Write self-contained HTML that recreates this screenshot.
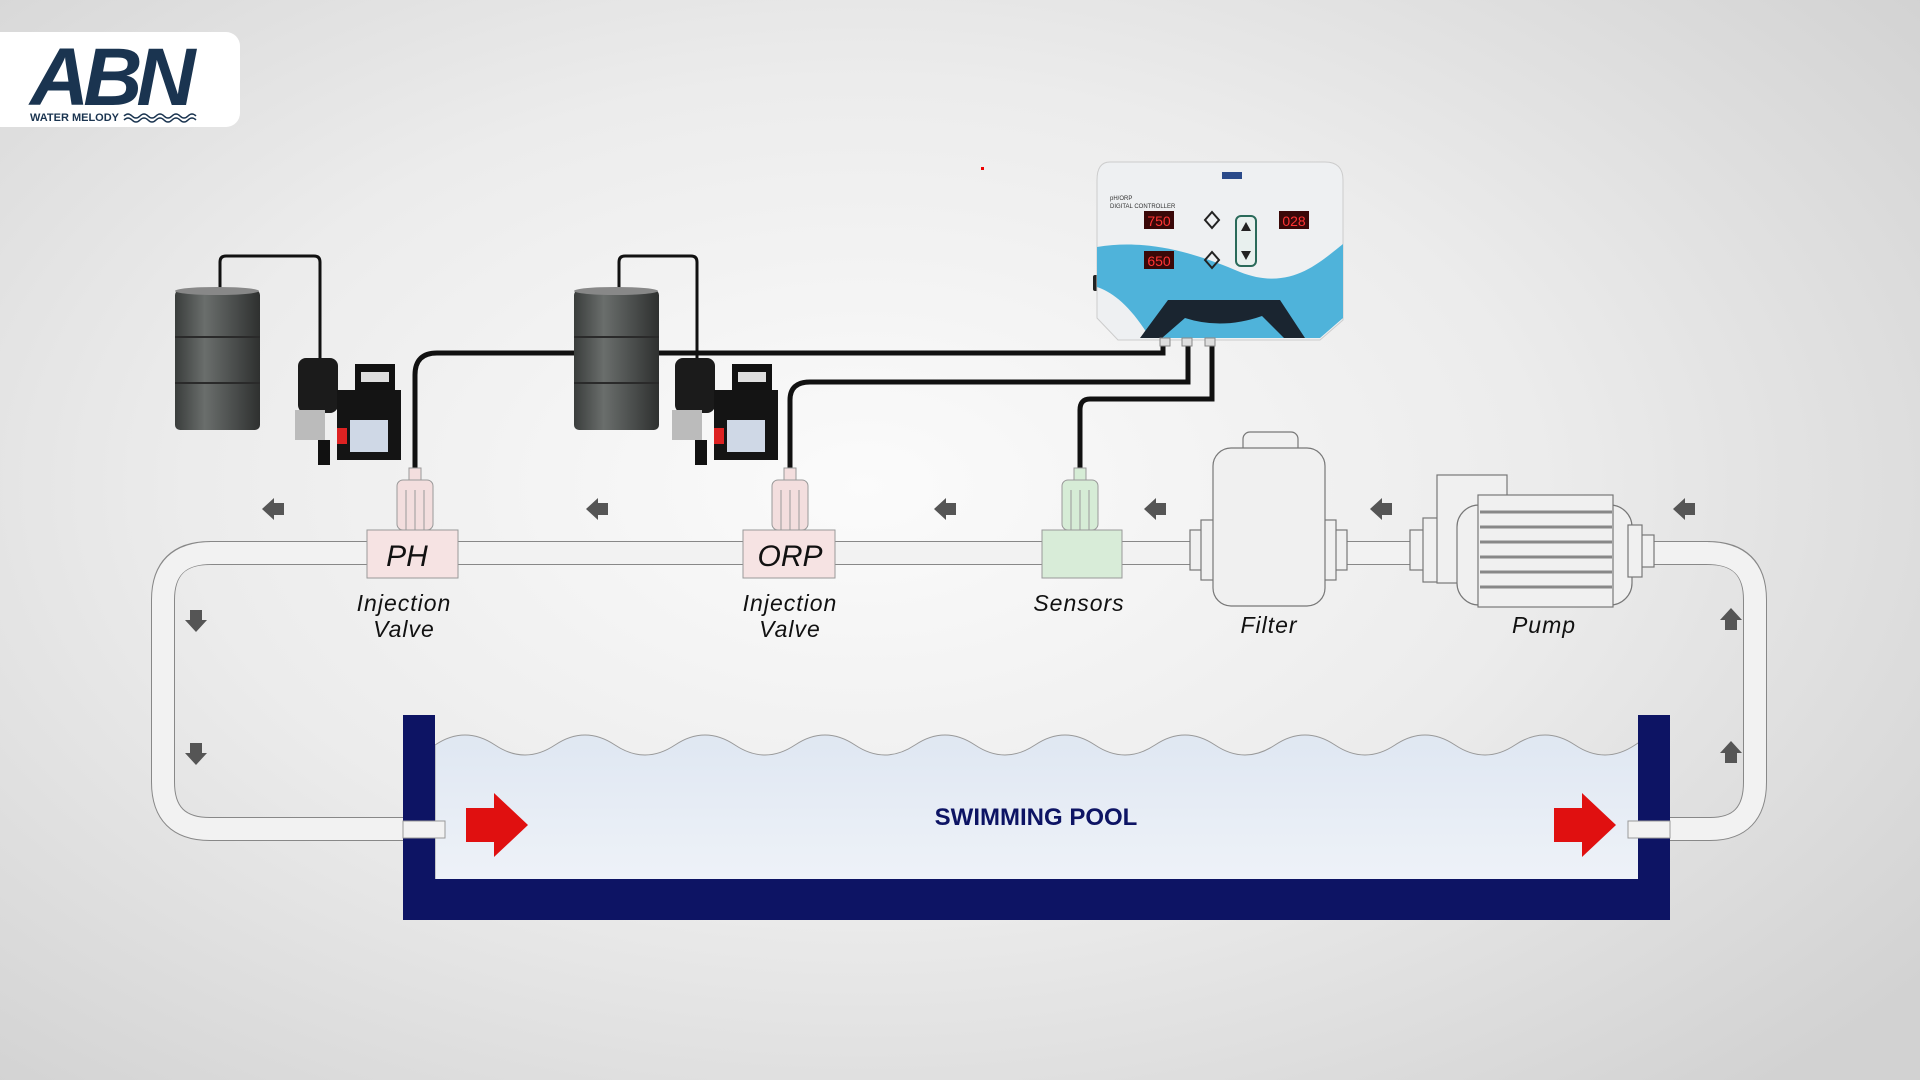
<!DOCTYPE html>
<html><head><meta charset="utf-8"><style>
html,body{margin:0;padding:0;width:1920px;height:1080px;overflow:hidden}
body{background:radial-gradient(ellipse 70% 75% at 45% 45%,#fbfbfb 0%,#ececec 50%,#d2d2d2 100%)}
svg{position:absolute;left:0;top:0}
</style></head><body>
<svg width="1920" height="1080" viewBox="0 0 1920 1080" xmlns="http://www.w3.org/2000/svg" font-family="Liberation Sans, sans-serif">
<defs>
<linearGradient id="drum" x1="0" x2="1"><stop offset="0" stop-color="#3a3d3c"/><stop offset=".35" stop-color="#6a6e6c"/><stop offset=".7" stop-color="#4a4d4c"/><stop offset="1" stop-color="#2e302f"/></linearGradient>
<linearGradient id="water" x1="0" y1="0" x2="0" y2="1"><stop offset="0" stop-color="#dfe7f2"/><stop offset="1" stop-color="#eef2f8"/></linearGradient>
<g id="arrL"><polygon points="0,0 12,-11 12,-6 22,-6 22,6 12,6 12,11" fill="#555"/></g>
</defs>
<!-- logo -->
<rect x="-20" y="32" width="260" height="95" rx="14" fill="#fff"/>
<text x="30" y="105" font-size="82" font-weight="bold" fill="#1a3450" letter-spacing="-6" font-style="italic">ABN</text>
<text x="30" y="121" font-size="11" font-weight="bold" fill="#1a3450">WATER MELODY</text>
<path d="M124 116 q4 -4 8 0 t8 0 t8 0 t8 0 t8 0 t8 0 t8 0 t8 0 t8 0 M124 120 q4 -4 8 0 t8 0 t8 0 t8 0 t8 0 t8 0 t8 0 t8 0 t8 0" stroke="#1a3450" stroke-width="1.5" fill="none"/>
<rect x="981" y="167" width="3" height="3" fill="#e00"/>

<!-- pipe loop -->
<path d="M210 553 H1710" stroke="#888" stroke-width="24" fill="none"/>
<path d="M210 553 H1710" stroke="#f2f2f2" stroke-width="22" fill="none"/>
<path d="M210 553 Q163 553 163 600 V782 Q163 829 210 829 H445" stroke="#888" stroke-width="24" fill="none"/>
<path d="M212 553 Q163 553 163 600 V782 Q163 829 210 829 H445" stroke="#f2f2f2" stroke-width="22" fill="none"/>
<path d="M1708 553 Q1755 553 1755 600 V782 Q1755 829 1710 829 H1628" stroke="#888" stroke-width="24" fill="none"/>
<path d="M1706 553 Q1755 553 1755 600 V782 Q1755 829 1710 829 H1628" stroke="#f2f2f2" stroke-width="22" fill="none"/>

<!-- pool -->
<path d="M435 745 q30 -20 60 0 t60 0 t60 0 t60 0 t60 0 t60 0 t60 0 t60 0 t60 0 t60 0 t60 0 t60 0 t60 0 t60 0 t60 0 t60 0 t60 0 t60 0 t60 0 t60 0 t23 0 V880 H435Z" fill="url(#water)" stroke="#999" stroke-width="1"/>
<path d="M403 715 H435 V879 H1638 V715 H1670 V920 H403Z" fill="#0d1464"/>
<rect x="403" y="821" width="42" height="17" fill="#f2f2f2" stroke="#999"/>
<rect x="1628" y="821" width="42" height="17" fill="#f2f2f2" stroke="#999"/>
<text x="1036" y="825" font-size="24" font-weight="bold" fill="#0d1464" text-anchor="middle">SWIMMING POOL</text>
<polygon points="466,808 494,808 494,793 528,825 494,857 494,842 466,842" fill="#e01010"/>
<polygon points="1554,808 1582,808 1582,793 1616,825 1582,857 1582,842 1554,842" fill="#e01010"/>

<!-- flow arrows -->
<use href="#arrL" x="262" y="509"/><use href="#arrL" x="586" y="509"/><use href="#arrL" x="934" y="509"/>
<use href="#arrL" x="1144" y="509"/><use href="#arrL" x="1370" y="509"/><use href="#arrL" x="1673" y="509"/>
<use href="#arrL" transform="translate(196,632) rotate(-90)"/><use href="#arrL" transform="translate(196,765) rotate(-90)"/>
<use href="#arrL" transform="translate(1731,608) rotate(90)"/><use href="#arrL" transform="translate(1731,741) rotate(90)"/>

<!-- cables -->
<g stroke="#111" stroke-width="5" fill="none">
<path d="M415 470 V375 Q415 353 437 353 H1163 V340"/>
<path d="M790 470 V400 Q790 382 810 382 H1188 V340"/>
<path d="M1080 470 V410 Q1080 399 1090 399 H1212 V340"/>
<path d="M220 290 V262 Q220 256 226 256 H314 Q320 256 320 262 V362" stroke-width="3"/>
<path d="M619 290 V262 Q619 256 625 256 H691 Q697 256 697 262 V362" stroke-width="3"/>
</g>

<!-- drums -->
<g><rect x="175" y="290" width="85" height="140" rx="5" fill="url(#drum)"/><ellipse cx="217" cy="291" rx="42" ry="4" fill="#888"/>
<path d="M175 337 H260 M175 383 H260" stroke="#2a2a2a" stroke-width="2"/></g>
<g><rect x="574" y="290" width="85" height="140" rx="5" fill="url(#drum)"/><ellipse cx="616" cy="291" rx="42" ry="4" fill="#888"/>
<path d="M574 337 H659 M574 383 H659" stroke="#2a2a2a" stroke-width="2"/></g>

<!-- dosing pumps -->
<g id="dp">
<rect x="298" y="358" width="40" height="55" rx="8" fill="#1b1b1b"/>
<rect x="355" y="364" width="40" height="28" fill="#111"/><rect x="361" y="372" width="28" height="10" fill="#ddd"/>
<rect x="337" y="390" width="64" height="70" fill="#141414"/>
<rect x="350" y="420" width="38" height="32" fill="#cfd8e6"/><rect x="337" y="428" width="10" height="16" fill="#d22"/>
<rect x="295" y="410" width="30" height="30" fill="#bbb"/><rect x="318" y="440" width="12" height="25" fill="#111"/>
</g>
<use href="#dp" x="377"/>

<!-- probes -->
<g id="probe" fill="#f3dede" stroke="#999"><rect x="409" y="468" width="12" height="12"/><rect x="397" y="480" width="36" height="50" rx="6"/>
<path d="M406 490 V530 M415 490 V530 M424 490 V530" fill="none"/></g>
<use href="#probe" x="375"/>
<g fill="#d6ecd6" stroke="#999"><rect x="1074" y="468" width="12" height="12"/><rect x="1062" y="480" width="36" height="50" rx="6"/>
<path d="M1071 490 V530 M1080 490 V530 M1089 490 V530" fill="none"/></g>

<!-- valve boxes -->
<rect x="367" y="530" width="91" height="48" fill="#f6e3e3" stroke="#999"/>
<text x="407" y="566" font-size="30" font-style="italic" text-anchor="middle" fill="#111">PH</text>
<rect x="743" y="530" width="92" height="48" fill="#f6e3e3" stroke="#999"/>
<text x="790" y="566" font-size="30" font-style="italic" text-anchor="middle" fill="#111">ORP</text>
<rect x="1042" y="530" width="80" height="48" fill="#d8ecd8" stroke="#999"/>

<!-- filter -->
<g fill="#f0f0f0" stroke="#777" stroke-width="1.2">
<rect x="1190" y="530" width="18" height="40"/><rect x="1201" y="520" width="14" height="60"/>
<rect x="1329" y="530" width="18" height="40"/><rect x="1322" y="520" width="14" height="60"/>
<rect x="1243" y="432" width="55" height="22" rx="7"/>
<rect x="1213" y="448" width="112" height="158" rx="18"/>
<!-- pump -->
<rect x="1410" y="530" width="18" height="40"/><rect x="1423" y="518" width="16" height="64"/>
<rect x="1437" y="475" width="70" height="108"/>
<rect x="1457" y="505" width="175" height="100" rx="22"/>
<rect x="1478" y="495" width="135" height="112"/>
<rect x="1636" y="535" width="18" height="32"/><rect x="1628" y="525" width="14" height="52"/>
</g>
<g stroke="#888" stroke-width="3"><path d="M1480 512 H1612 M1480 527 H1612 M1480 542 H1612 M1480 557 H1612 M1480 572 H1612 M1480 587 H1612"/></g>

<!-- labels -->
<g font-size="23" font-style="italic" fill="#111" text-anchor="middle" letter-spacing="1">
<text x="404" y="611">Injection</text><text x="404" y="637">Valve</text>
<text x="790" y="611">Injection</text><text x="790" y="637">Valve</text>
<text x="1079" y="611">Sensors</text>
<text x="1269" y="633">Filter</text>
<text x="1544" y="633">Pump</text>
</g>

<!-- controller -->
<g>
<rect x="1093" y="275" width="6" height="16" rx="2" fill="#222"/>
<path d="M1110 162 H1325 Q1343 162 1343 180 V320 L1320 340 H1118 L1097 318 V180 Q1097 162 1110 162Z" fill="#eef0f2" stroke="#ccc"/>
<path d="M1097 247 C1150 238 1200 255 1240 272 C1290 292 1320 262 1343 244 V318 L1320 338 H1150 C1130 305 1112 292 1097 287Z" fill="#4fb3da"/>
<path d="M1140 338 L1168 300 H1280 L1305 338Z" fill="#1a2530"/>
<path d="M1162 338 L1185 318 Q1222 330 1262 316 L1284 338Z" fill="#4fb3da"/>
<text x="1110" y="200" font-size="6" fill="#333">pH/ORP</text><text x="1110" y="208" font-size="6" fill="#333">DIGITAL CONTROLLER</text>
<rect x="1144" y="211" width="30" height="18" fill="#3a0808"/><text x="1159" y="226" font-size="14" fill="#f33" text-anchor="middle">750</text>
<rect x="1144" y="251" width="30" height="18" fill="#3a0808"/><text x="1159" y="266" font-size="14" fill="#f33" text-anchor="middle">650</text>
<rect x="1279" y="211" width="30" height="18" fill="#3a0808"/><text x="1294" y="226" font-size="14" fill="#f33" text-anchor="middle">028</text>
<rect x="1236" y="216" width="20" height="50" rx="5" fill="#e8f0ee" stroke="#2a6a5a" stroke-width="2"/>
<polygon points="1246,222 1251,231 1241,231" fill="#222"/><polygon points="1246,260 1251,251 1241,251" fill="#222"/>
<path d="M1212 212 l7 8 -7 8 -7 -8Z M1212 252 l7 8 -7 8 -7 -8Z" fill="none" stroke="#222" stroke-width="2"/>
<rect x="1222" y="172" width="20" height="7" fill="#2a4a8a"/>
<g fill="#ddd" stroke="#888"><rect x="1160" y="338" width="10" height="8"/><rect x="1182" y="338" width="10" height="8"/><rect x="1205" y="338" width="10" height="8"/></g>
</g>
</svg>
</body></html>
